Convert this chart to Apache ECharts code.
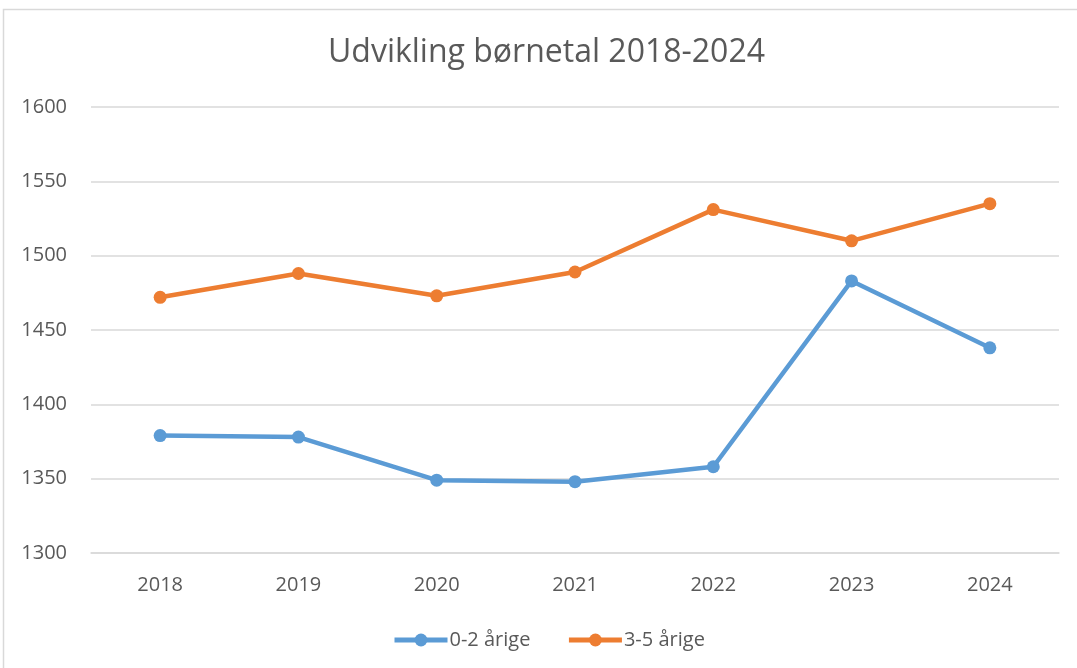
<!DOCTYPE html>
<html><head><meta charset="utf-8">
<script src="https://cdn.jsdelivr.net/npm/echarts@6/dist/echarts.min.js"></script>
<style>html,body{margin:0;padding:0;background:#fff}#c{width:1077px;height:668px}</style>
</head><body><div id="c"></div>
<script>
const years = ['2018','2019','2020','2021','2022','2023','2024'];
const small = [1379, 1378, 1349, 1348, 1358, 1483, 1438];
const big = [1472, 1488, 1473, 1489, 1531, 1510, 1535];
const seriesNames = ['0-2 årige', '3-5 årige'];
const title = 'Udvikling børnetal 2018-2024';

const chart = echarts.init(document.getElementById('c'), null, {renderer: 'canvas'});
const font = '"Open Sans", sans-serif';
const mk = (name, data, color) => ({
  name, type: 'line', data, color,
  symbol: 'circle', symbolSize: 13,
  lineStyle: {width: 4.5, color},
  itemStyle: {color},
  emphasis: {disabled: true}
});
chart.setOption({
  animation: false,
  backgroundColor: '#fff',
  graphic: [{type: 'rect', shape: {x: 3.5, y: 9.5, width: 1100, height: 700},
    style: {fill: 'none', stroke: '#D9D9D9', lineWidth: 1.5}, silent: true}],
  title: {text: title, left: 323, top: 32,
    textStyle: {fontFamily: font, fontSize: 32, fontWeight: 'normal', color: '#595959'}},
  grid: {left: 91, right: 18, top: 107, bottom: 115},
  legend: {bottom: 13, left: 387, itemWidth: 53, itemHeight: 16, itemGap: 36,
    lineStyle: {width: 5},
    textStyle: {fontFamily: font, fontSize: 20, color: '#595959', padding: [0,0,0,-3]},
    data: seriesNames},
  xAxis: {type: 'category', data: years, boundaryGap: true,
    axisLine: {lineStyle: {color: '#D9D9D9', width: 1.5}}, axisTick: {show: false},
    axisLabel: {margin: 22, fontFamily: font, fontSize: 20, color: '#595959'}},
  yAxis: {type: 'value', min: 1300, max: 1600, interval: 50,
    axisLine: {show: false}, axisTick: {show: false},
    splitLine: {lineStyle: {color: '#D9D9D9', width: 1.5}},
    axisLabel: {margin: 24, fontFamily: font, fontSize: 20, color: '#595959', formatter: v => String(v)}},
  series: [mk(seriesNames[0], small, '#5B9BD5'), mk(seriesNames[1], big, '#ED7D31')]
});
</script></body></html>
